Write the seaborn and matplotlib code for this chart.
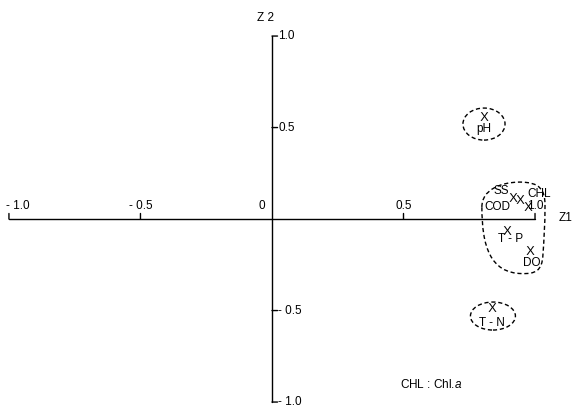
import numpy as np
import matplotlib
matplotlib.use("Agg")
import matplotlib.pyplot as plt
import seaborn as sns
import pandas as pd
from matplotlib.patches import Ellipse, PathPatch
from matplotlib.path import Path

# loadings on Z1 / Z2
names = ['pH', 'T - N', 'T - P', 'DO', 'SS', 'COD', 'CHL']
z1 = [0.806, 0.837, 0.894, 0.981, 0.916, 0.943, 0.973]
z2 = [0.563, -0.481, -0.060, -0.169, 0.120, 0.109, 0.071]
# label offsets in points (x, y) relative to each X
label_dx = [0, 0, 2.2, 1.4, -8.6, -16.5, 8]
label_dy = [-9.4, -11.5, -6.5, -9.4, 4.3, -5.8, 8.6]

xticks = [-1.0, -0.5, 0.5, 1.0]
xticklabels = ['- 1.0', '- 0.5', '0.5', '1.0']
yticks = [1.0, 0.5, -0.5, -1.0]
yticklabels = ['1.0', '0.5', '- 0.5', '- 1.0']

sns.set_style('white')
plt.rcParams['font.family'] = ['Liberation Sans', 'DejaVu Sans']
plt.rcParams['text.color'] = 'black'
plt.rcParams['mathtext.fontset'] = 'custom'
plt.rcParams['mathtext.rm'] = 'Liberation Sans'
plt.rcParams['mathtext.it'] = 'Liberation Sans:italic'

df = pd.DataFrame({'name': names, 'z1': z1, 'z2': z2})

fig = plt.figure(figsize=(5.75, 4.09), dpi=100)
ax = fig.add_axes([0, 0, 1, 1])
ax.set_xlim(-1.034, 1.152)
ax.set_ylim(-1.038, 1.197)

fs = 8.5
lw = 1.0

# axes through origin
ax.plot([-1, 1], [0, 0], color='black', lw=lw)
ax.plot([0, 0], [-1, 1], color='black', lw=lw)
for spine in ax.spines.values():
    spine.set_visible(False)
ax.set_xticks([])
ax.set_yticks([])

# tick marks: x ticks up, y ticks right
for xt, lab in zip(xticks, xticklabels):
    ax.annotate('', xy=(xt, 0), xytext=(0, 4), textcoords='offset points',
                arrowprops=dict(arrowstyle='-', lw=lw, color='black', shrinkA=0, shrinkB=0))
    ha = 'left' if xt == -1.0 else 'center'
    dx = -2 if xt == -1.0 else 0
    ax.annotate(lab, xy=(xt, 0), xytext=(dx, 5), textcoords='offset points',
                ha=ha, va='bottom', fontsize=fs, color='black')
ax.annotate('0', xy=(0, 0), xytext=(-7, 5), textcoords='offset points',
            ha='center', va='bottom', fontsize=fs, color='black')
for yt, lab in zip(yticks, yticklabels):
    ax.annotate('', xy=(0, yt), xytext=(4, 0), textcoords='offset points',
                arrowprops=dict(arrowstyle='-', lw=lw, color='black', shrinkA=0, shrinkB=0))
    ax.annotate(lab, xy=(0, yt), xytext=(4.5, 0), textcoords='offset points',
                ha='left', va='center', fontsize=fs, color='black')

ax.annotate('Z1', xy=(1, 0), xytext=(17, 1), textcoords='offset points',
            ha='left', va='center', fontsize=fs, color='black')
ax.annotate('Z 2', xy=(0, 1), xytext=(-5, 9), textcoords='offset points',
            ha='center', va='bottom', fontsize=fs, color='black')

# points drawn as "X"
sns.scatterplot(data=df, x='z1', y='z2', marker=r'$\mathrm{X}$', s=40,
                color='black', linewidth=0, ax=ax, legend=False)
for n, x, y, dx, dy in zip(names, z1, z2, label_dx, label_dy):
    ax.annotate(n, xy=(x, y), xytext=(dx, dy), textcoords='offset points',
                ha='center', va='center', fontsize=fs, color='black')

# dashed groupings
dash = (0, (3, 2))
ax.add_patch(Ellipse((0.806, 0.519), 0.160, 0.175, fill=False, ls=dash, lw=lw, ec='black'))
ax.add_patch(Ellipse((0.840, -0.530), 0.171, 0.153, fill=False, ls=dash, lw=lw, ec='black'))
verts = [(0.798, 0.066),
         (0.798, 0.158), (0.867, 0.202), (0.943, 0.202),
         (1.019, 0.202), (1.038, 0.158), (1.038, 0.077),
         (1.038, -0.033), (1.034, -0.115), (1.030, -0.197),
         (1.027, -0.285), (1.000, -0.300), (0.950, -0.298),
         (0.830, -0.295), (0.798, -0.150), (0.798, 0.066)]
codes = [Path.MOVETO] + [Path.CURVE4] * 15
ax.add_patch(PathPatch(Path(verts, codes), fill=False, ls=dash, lw=lw, ec='black'))

ax.text(0.485, -0.905, r'CHL : Chl.$\it{a}$', fontsize=fs, ha='left', va='center', color='black')

fig.savefig('out.png', dpi=100)
